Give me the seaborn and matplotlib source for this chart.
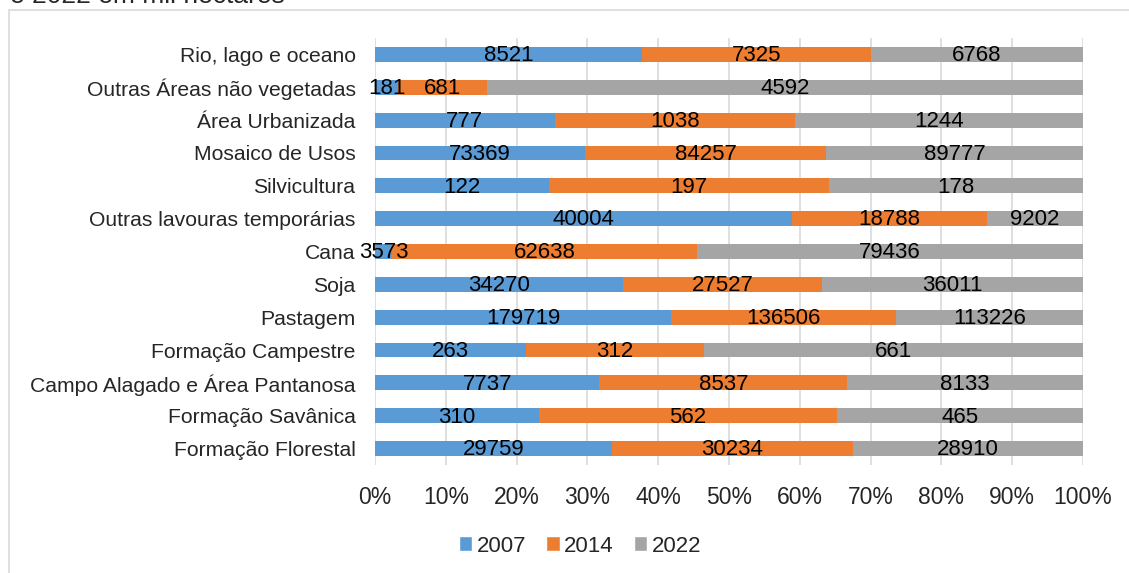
import matplotlib
matplotlib.use("Agg")
import matplotlib.pyplot as plt
import seaborn as sns
import pandas as pd
import numpy as np
from matplotlib.patches import Patch, Rectangle

categories = ["Rio, lago e oceano", "Outras Áreas não vegetadas", "Área Urbanizada",
              "Mosaico de Usos", "Silvicultura", "Outras lavouras temporárias", "Cana",
              "Soja", "Pastagem", "Formação Campestre", "Campo Alagado e Área Pantanosa",
              "Formação Savânica", "Formação Florestal"]
v2007 = [8521, 181, 777, 73369, 122, 40004, 3573, 34270, 179719, 263, 7737, 310, 29759]
v2014 = [7325, 681, 1038, 84257, 197, 18788, 62638, 27527, 136506, 312, 8537, 562, 30234]
v2022 = [6768, 4592, 1244, 89777, 178, 9202, 79436, 36011, 113226, 661, 8133, 465, 28910]
years = ["2007", "2014", "2022"]
colors = ["#5B9BD5", "#ED7D31", "#A5A5A5"]
xticks = [0, 10, 20, 30, 40, 50, 60, 70, 80, 90, 100]
title_tail = "e 2022 em mil hectares"

sns.set_theme(style="white")
plt.rcParams['font.family'] = ['Liberation Sans', 'DejaVu Sans']

vals = np.array([v2007, v2014, v2022], dtype=float)
pct = vals / vals.sum(axis=0) * 100
cum = np.cumsum(pct, axis=0)

fig = plt.figure(figsize=(11.29, 5.73), dpi=100)
ax = fig.add_axes([375/1129, 1-465/573, 708/1129, 427/573])

# draw layers from outermost cumulative to innermost
for i in [2, 1, 0]:
    df = pd.DataFrame({"cat": categories, "val": cum[i]})
    sns.barplot(data=df, x="val", y="cat", orient="h", color=colors[i],
                width=0.45, ax=ax, saturation=1, linewidth=0, zorder=3)

# labels centered in segments
starts = np.vstack([np.zeros(len(categories)), cum[:-1]])
for i in range(3):
    for j in range(len(categories)):
        ax.text(starts[i, j] + pct[i, j] / 2, j + 0.04, f"{int(vals[i, j])}",
                ha="center", va="center", fontsize=16, color="black", zorder=5)

ax.set_xlim(0, 100)
ax.set_ylim(12.5, -0.5)
ax.set_xticks(xticks)
ax.set_xticklabels([f"{t}%" for t in xticks], fontsize=16.5)
ax.tick_params(axis="y", labelsize=15.2, length=0, pad=14)
ax.tick_params(axis="x", length=0, pad=15)
ax.xaxis.grid(True, color="#D9D9D9", linewidth=1.2, zorder=0)
ax.set_axisbelow(True)
for s in ax.spines.values():
    s.set_visible(False)
ax.set_xlabel("")
ax.set_ylabel("")

handles = [Patch(facecolor=c, label=y) for c, y in zip(colors, years)]
fig.legend(handles=handles, loc="center", bbox_to_anchor=(580/1129, 1-546/573),
           ncol=3, frameon=False, fontsize=16, handlelength=0.6, handleheight=0.65,
           handletextpad=0.2, columnspacing=0.9)

# chart border
fig.patches.append(Rectangle((9/1129, -0.01), 1.1, 1-10/573 + 0.01, transform=fig.transFigure,
                             fill=False, edgecolor="#D9D9D9", linewidth=1.2))
fig.text(10/1129, 1-3/573, title_tail, fontsize=19, ha="left", va="baseline")

fig.savefig("out.png", dpi=100)
